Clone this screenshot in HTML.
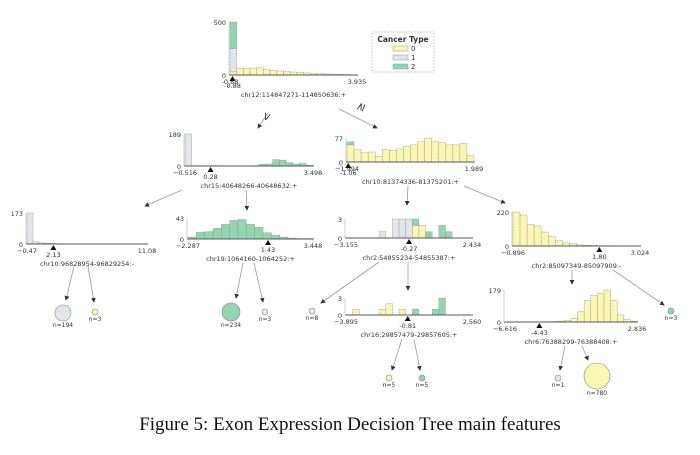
<!DOCTYPE html>
<html><head><meta charset="utf-8">
<style>
body{margin:0;background:#fff;width:700px;height:455px;overflow:hidden;font-family:"DejaVu Sans","Liberation Sans",sans-serif;}
svg text{font-family:"DejaVu Sans","Liberation Sans",sans-serif;fill:#333;}
#cap{position:absolute;left:0;top:414px;width:700px;text-align:center;font-family:"Liberation Serif",serif;font-size:19px;color:#111;}
</style></head>
<body>
<svg id="tree" width="700" height="455" viewBox="0 0 700 455" style="position:absolute;left:0;top:0">
<defs><marker id="ah" markerWidth="6" markerHeight="6" refX="5" refY="3" orient="auto"><path d="M0,0L6,3L0,6z" fill="#333"/></marker></defs>
<g id="edges"></g><g id="nodes"></g>
<g>
<rect x="372" y="32" width="62" height="40" fill="#fff" stroke="#ccc" stroke-dasharray="2,1"/>
<text x="403" y="42" font-size="7.5" font-weight="bold" text-anchor="middle">Cancer Type</text>
<rect x="393" y="46" width="15" height="5" fill="#fbf6b2" stroke="#999" stroke-width="0.5"/><text x="411" y="51" font-size="7">0</text>
<rect x="393" y="55" width="15" height="5" fill="#e2e5e9" stroke="#999" stroke-width="0.5"/><text x="411" y="60" font-size="7">1</text>
<rect x="393" y="64" width="15" height="5" fill="#93d5b1" stroke="#999" stroke-width="0.5"/><text x="411" y="69" font-size="7">2</text>
</g>
</svg>
<div id="cap">Figure 5: Exon Expression Decision Tree main features</div>
<script>
// counts per bin: class0 (yellow), class1 (grey), class2 (green)
const rootY=[30,60,65,65,68,50,45,38,32,28,24,20,16,12,10,8,6,4,2];
const rootG=[220,0,0,0,0,0,0,0,0,0,0,0,0,0,0,0,0,0,0];
const rootN=[250,0,0,0,0,0,0,0,0,0,0,0,0,0,0,0,0,0,0];
const n2Y=[0,0,0,0,0,0,0,0,0,0,0,0,0,0,0,0,0,0,0];
const n2G=[189,2,2,2,2,2,1,1,1,0,0,0,0,0,0,0,0,0,0];
const n2N=[0,0,0,0,0,0,0,0,0,1,2,10,12,38,35,20,12,15,4];
const n3Y=[55,40,30,32,18,40,37,42,50,55,65,77,65,62,55,55,60,22];
const n3G=[0,0,0,0,0,0,0,0,0,0,0,0,0,0,0,0,0,0];
const n3N=[10,0,0,0,0,0,0,0,0,0,0,0,0,0,0,0,0,0];
const n4Y=[0,0,0,0,0,0,0,0,0,0,0,0,0,0,0,0,0,0,0,0];
const n4G=[173,12,6,4,3,2,1,1,1,0,0,0,0,0,0,0,0,0,0,0];
const n4N=[0,0,0,0,0,0,0,0,0,0,0,0,0,0,0,0,0,0,0,0];
const n5Y=[0,0,0,0,0,0,0,0,0,0,0,0,0,0,0];
const n5G=[0,0,0,0,0,0,0,0,0,0,0,0,0,0,0];
const n5N=[4,14,15,22,30,38,40,30,24,13,8,4,2,1,1];
const n6Y=[0,0,0,0,0,0,0,0,0,0,2,2,0,0,0,0,0,0,0];
const n6G=[0,0,0,0,0,1,0,3,3,3,0,0,0,0,0,0,0,0,0];
const n6N=[0,0,0,0,0,0,0,0,0,0,1,0,1,0,2,1,0,0,0];
const n7Y=[220,200,140,130,90,60,35,20,18,8,5,3,2,2,1,1,1,1];
const n7G=[0,0,0,0,0,0,0,0,0,0,0,0,0,0,0,0,0,0];
const n7N=[0,0,0,0,0,0,0,0,0,0,0,0,0,0,0,0,0,0];
const n8Y=[0,1,0,0,0,1,2,0,1,0,0,0,0,0,0,0,0,0,0];
const n8G=[0,0,0,0,0,0,0,0,0,0,0,0,0,0,0,0,0,0,0];
const n8N=[0,0,0,0,0,0,0,0,0,0,1,0,0,1,3,0,0,0,0];
const n9Y=[0,1,1,1,1,1,2,3,5,8,20,60,120,150,160,179,120,40,15,5];
const n9G=[0,0,0,0,0,0,0,0,0,0,0,0,0,0,0,0,0,0,0,0];
const n9N=[0,0,0,0,0,0,0,0,0,0,0,0,0,0,0,0,0,0,0,0];
const COL=['#fbf6b2','#e2e5e9','#93d5b1'];
const NS='http://www.w3.org/2000/svg';
function mk(tag,at,parent){const e=document.createElementNS(NS,tag);for(const k in at)e.setAttribute(k,at[k]);parent.appendChild(e);return e;}
function txt(x,y,s,sz,anc,parent){const t=mk('text',{x:x,y:y,'font-size':sz,'text-anchor':anc},parent);t.textContent=s;return t;}
const nodesG=document.getElementById('nodes');
function hist(name,x0,x1,top,base,max,series,lo,hi,split,splitFrac,feat){
  const g=mk('g',{},nodesG);
  
  
  const n=series[0].length, bw=(x1-x0)/n;
  const ys=v=>(base-top)*v/max;
  for(let i=0;i<n;i++){
    let acc=0;
    for(let c=0;c<3;c++){
      const v=series[c][i]; if(!v) continue;
      const h=ys(v);
      const r=mk('rect',{x:x0+i*bw,y:base-acc-h,width:bw,height:h,fill:COL[c],stroke:'#888','stroke-width':0.5,'stroke-dasharray':'1,0.5'},g);
      
      
      acc+=h;
    }
  }
  mk('line',{x1:x0-1,y1:base,x2:x1+1,y2:base,stroke:'#555','stroke-width':1},g);
  mk('line',{x1:x0-1,y1:top,x2:x0-1,y2:base,stroke:'#bbb','stroke-width':0.7},g);
  txt(x0-4,top+3,String(max),6.5,'end',g);
  txt(x0-4,base+3,'0',6.5,'end',g);
  txt(x0,base+9,lo,6.5,'middle',g);
  txt(x1,base+9,hi,6.5,'middle',g);
  const sx=x0+(x1-x0)*splitFrac;
  mk('path',{d:`M${sx-3},${base+6}L${sx+3},${base+6}L${sx},${base+1}z`,fill:'#111'},g);
  txt(sx,base+13,split,6.5,'middle',g);
  txt((x0+x1)/2,base+22,feat,6.5,'middle',g);
}
hist('root-node-chr12',230,357,22,75,500,[rootY,rootG,rootN],'-0.88','3.935','-0.88',0.02,'chr12:114847271-114850636:+');
hist('node-chr15',185,313,134,166,189,[n2Y,n2G,n2N],'\u22120.516','3.498','0.28',0.2,'chr15:40648266-40648632:+');
hist('node-chr10-81374338',347,474,138,162,77,[n3Y,n3G,n3N],'\u22121.994','1.989','-1.06',0.01,'chr10:81374336-81375201:+');
hist('node-chr10-96828954',27,147,213,244,173,[n4Y,n4G,n4N],'\u22120.47','11.08','2.13',0.22,'chr10:96828954-96829254:-');
hist('node-chr19',188,313,218,239,43,[n5Y,n5G,n5N],'\u22122.287','3.448','1.43',0.64,'chr19:1064160-1064252:+');
hist('node-chr2-54855234',346,472,219,238,3,[n6Y,n6G,n6N],'\u22123.155','2.434','-0.27',0.5,'chr2:54855234-54855387:+');
hist('node-chr2-85097349',513,640,212,246,220,[n7Y,n7G,n7N],'\u22120.896','3.024','1.80',0.68,'chr2:85097349-85097909:-');
hist('node-chr16',346,472,298,315,3,[n8Y,n8G,n8N],'\u22123.895','2.560','-0.81',0.49,'chr16:29857479-29857605:+');
hist('node-chr6',505,637,290,322,179,[n9Y,n9G,n9N],'\u22126.616','2.836','-4.43',0.26,'chr6:76388299-76388408:+');
const edgesG=document.getElementById('edges');
const edges=[[268,113,258,128],[339,109,377,128],[182,190,145,206],[246,190,247,210],[408,186,407,205],[464,186,505,203],[74,266,66,300],[88,266,94,302],[243,263,236,298],[254,263,263,302],[379,262,321,303],[408,262,408,290],[572,270,572,284],[613,270,664,305],[402,339,392,370],[414,339,420,370],[565,346,560,370],[582,346,588,360]];
edges.forEach(e=>{const l=mk('line',{x1:e[0],y1:e[1],x2:e[2],y2:e[3],stroke:'#999','stroke-width':0.8,'marker-end':'url(#ah)'},edgesG);

});
txt(270,118,'<',11,'middle',edgesG).setAttribute('transform','rotate(-70 270 118)');
txt(364,108,'\u2265',11,'middle',edgesG).setAttribute('transform','rotate(-70 364 108)');
const leaves=[[63,313,8,1,'n=194'],[95,312,3,0,'n=3'],[231,312,9,2,'n=234'],[265,312,3,1,'n=3'],[312,311,3,1,'n=8'],[389,378,3,0,'n=5'],[422,378,3,2,'n=5'],[558,378,3,1,'n=1'],[597,376,13,0,'n=780'],[671,311,3,2,'n=3']];
leaves.forEach(v=>{const g=mk('g',{},nodesG);


mk('circle',{cx:v[0],cy:v[1],r:v[2],fill:COL[v[3]],stroke:'#888','stroke-width':0.6},g);
txt(v[0],v[1]+v[2]+6,v[4],6,'middle',g);});
</script>
</body></html>
